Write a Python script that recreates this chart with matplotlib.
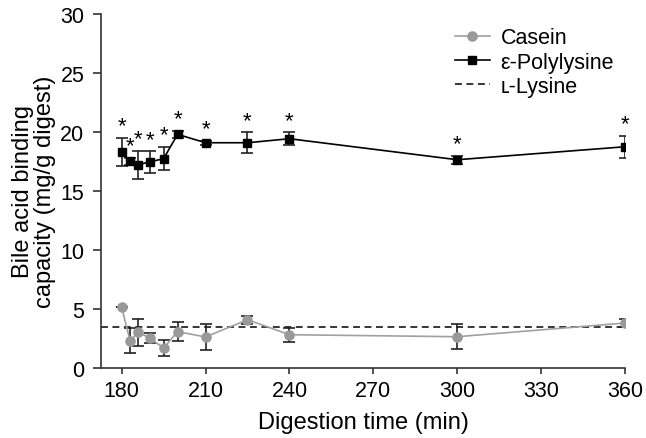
import matplotlib
matplotlib.use("Agg")
import matplotlib.pyplot as plt

plt.rcParams['font.family'] = ['Liberation Sans', 'DejaVu Sans']

times = [180, 183, 186, 190, 195, 200, 210, 225, 240, 300, 360]
casein = [5.14, 2.31, 3.03, 2.54, 1.69, 3.08, 2.63, 4.09, 2.82, 2.65, 3.81]
casein_err = [0.0, 1.07, 1.15, 0.45, 0.65, 0.8, 1.08, 0.35, 0.6, 1.07, 0.3]
poly = [18.3, 17.52, 17.23, 17.46, 17.74, 19.8, 19.09, 19.09, 19.43, 17.65, 18.75]
poly_err = [1.2, 0.3, 1.2, 0.9, 1.0, 0.3, 0.15, 0.9, 0.55, 0.33, 0.95]
lysine = 3.45
xticks = [180, 210, 240, 270, 300, 330, 360]
yticks = [0, 5, 10, 15, 20, 25, 30]

fig = plt.figure(figsize=(6.46, 4.39), dpi=100)
ax = fig.add_axes([0.1563, 0.1595, 0.8112, 0.8063])

ln_lys = ax.axhline(lysine, color='black', lw=1.1, ls=(0, (4.5, 3)), zorder=1)

c = ax.errorbar(times, casein, yerr=casein_err, color='#a0a0a0', lw=1.2,
                marker='o', ms=6.6, mfc='#999999', mec='#999999',
                ecolor='#222222', elinewidth=1.2, capsize=4.5, capthick=1.2,
                zorder=3)
p = ax.errorbar(times, poly, yerr=poly_err, color='black', lw=1.2,
                marker='s', ms=5.8, mfc='black', mec='black',
                ecolor='#222222', elinewidth=1.2, capsize=4.5, capthick=1.2,
                zorder=3)

for t, v, e in zip(times, poly, poly_err):
    ax.annotate('*', (t, v + e), xytext=(0, 1.0), textcoords='offset points',
                ha='center', va='bottom', fontsize=16)

ax.set_xlim(172.6, 360)
ax.set_ylim(0, 30)
ax.set_xticks(xticks)
ax.set_yticks(yticks)
for s in ['top', 'right']:
    ax.spines[s].set_visible(False)
for s in ['left', 'bottom']:
    ax.spines[s].set_color('#333333')
    ax.spines[s].set_linewidth(1.2)
ax.tick_params(axis='both', labelsize=15.5, width=1.2, color='#333333')
ax.tick_params(axis='x', length=4.5, pad=4)
ax.tick_params(axis='y', length=6, pad=6)

ax.set_xlabel('Digestion time (min)', fontsize=17, labelpad=7)
ax.set_ylabel('Bile acid binding\ncapacity (mg/g digest)', fontsize=17, labelpad=3,
              linespacing=1.0)

leg = ax.legend([c[0], p[0], ln_lys], ['Casein', 'ε-Polylysine', 'ʟ-Lysine'],
                loc='upper left', bbox_to_anchor=(0.639, 1.017), frameon=False,
                fontsize=15.5, handlelength=1.6, handletextpad=0.5,
                labelspacing=0.15)

fig.savefig('out.png', dpi=100)
